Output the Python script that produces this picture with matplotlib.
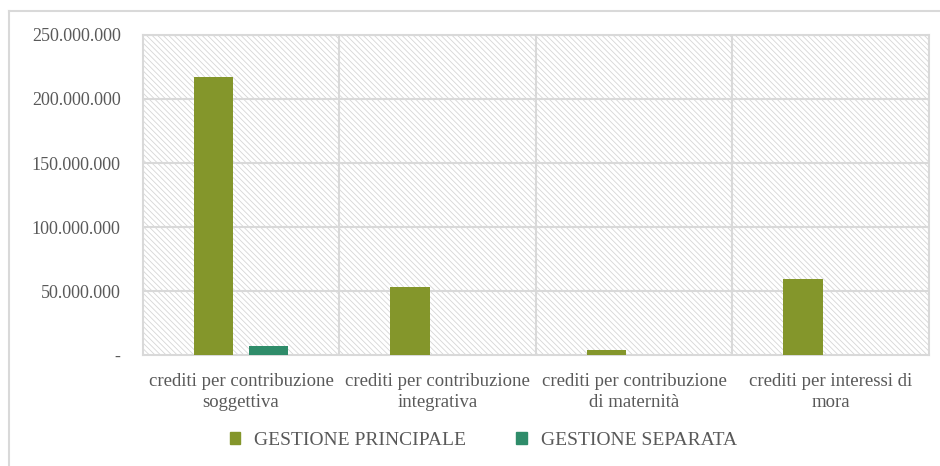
import matplotlib.pyplot as plt
import numpy as np
from matplotlib.patches import Rectangle
from matplotlib.lines import Line2D
from matplotlib.ticker import FuncFormatter

# data
categories = ["crediti per contribuzione\nsoggettiva",
              "crediti per contribuzione\nintegrativa",
              "crediti per contribuzione\ndi maternità",
              "crediti per interessi di\nmora"]
principale = [217200000, 53100000, 3900000, 59400000]
separata = [7000000, 0, 0, 0]
series_names = ["GESTIONE PRINCIPALE", "GESTIONE SEPARATA"]
yticks = [0, 50000000, 100000000, 150000000, 200000000, 250000000]

green = "#84962b"
teal = "#2f8c6a"
grid_col = "#d9d9d9"
text_col = "#595959"

plt.rcParams['font.family'] = ['Liberation Serif', 'DejaVu Serif']
plt.rcParams['hatch.color'] = '#d6d6d6'
plt.rcParams['hatch.linewidth'] = 0.6

fig = plt.figure(figsize=(9.4, 4.66), dpi=100)
ax = fig.add_axes([0.152, 0.238, 0.836, 0.687])

# hatched plot background
ax.add_patch(Rectangle((0, 0), 1, 1, transform=ax.transAxes, facecolor='white',
                       edgecolor='#d6d6d6', hatch='\\\\\\\\\\\\', lw=0, zorder=0))

x = np.arange(len(categories))
w = 0.2
ax.bar(x - 0.14, principale, w, color=green, zorder=3, label=series_names[0])
ax.bar(x + 0.14, separata, w, color=teal, zorder=3, label=series_names[1])

ax.set_xlim(-0.5, len(categories) - 0.5)
ax.set_ylim(0, 250000000)
ax.set_yticks(yticks)
ax.yaxis.set_major_formatter(FuncFormatter(
    lambda v, p: "-" if v == 0 else f"{int(v):,}".replace(",", ".")))
ax.set_xticks(x)
ax.set_xticklabels(categories, fontsize=13.5, linespacing=1.3)

# gridlines
for yv in yticks[1:]:
    ax.axhline(yv, color=grid_col, lw=1.5, zorder=1)
for xv in np.arange(0.5, len(categories) - 0.5, 1):
    ax.axvline(xv, color=grid_col, lw=1.5, zorder=1)

for s in ax.spines.values():
    s.set_color(grid_col)
    s.set_linewidth(1.5)
ax.tick_params(axis='x', length=0, colors=text_col, pad=13)
ax.tick_params(axis='y', length=0, colors=text_col, labelsize=13, pad=16)
ax.set_facecolor('white')

leg = fig.legend(handles=[plt.Rectangle((0, 0), 1, 1, color=green),
                          plt.Rectangle((0, 0), 1, 1, color=teal)],
                 labels=series_names, loc='center', bbox_to_anchor=(0.514, 0.055),
                 ncol=2, frameon=False, fontsize=14, handlelength=0.55,
                 handleheight=0.55, columnspacing=2.6, handletextpad=0.7)
for t in leg.get_texts():
    t.set_color(text_col)

# chart border
fig.add_artist(Line2D([0.0096, 0.0096], [0, 0.977], color=grid_col, lw=1.5))
fig.add_artist(Line2D([0.0096, 1], [0.977, 0.977], color=grid_col, lw=1.5))

fig.savefig("out.png", dpi=100)
